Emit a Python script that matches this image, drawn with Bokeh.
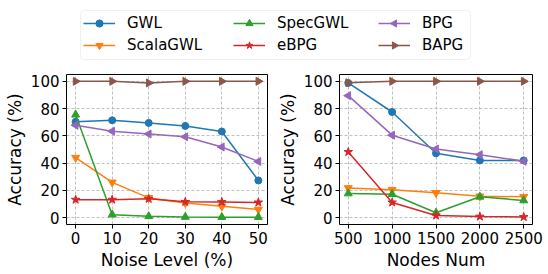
import math
from bokeh.plotting import figure
from bokeh.models import Range1d, Legend, LegendItem, FixedTicker, BoxAnnotation
from bokeh.layouts import column, row
from bokeh.embed import file_html
from bokeh.resources import INLINE

# ---------------- data ----------------
noise_levels = [0, 10, 20, 30, 40, 50]
nodes_num = [500, 1000, 1500, 2000, 2500]
methods = ["GWL", "ScalaGWL", "SpecGWL", "eBPG", "BPG", "BAPG"]

noise_gwl = [70.3, 71.4, 69.5, 67.3, 63.2, 27.3]
noise_scalagwl = [44.0, 25.9, 14.5, 10.8, 8.3, 6.0]
noise_specgwl = [75.5, 2.2, 1.0, 0.5, 0.4, 0.4]
noise_ebpg = [13.2, 13.2, 13.8, 11.6, 11.5, 11.2]
noise_bpg = [67.8, 63.4, 61.4, 59.3, 51.8, 41.2]
noise_bapg = [100.0, 100.0, 98.8, 100.0, 100.0, 100.0]

nodes_gwl = [98.8, 77.5, 47.2, 42.0, 42.0]
nodes_scalagwl = [21.8, 20.5, 18.2, 15.7, 15.3]
nodes_specgwl = [17.7, 17.2, 3.6, 15.3, 12.6]
nodes_ebpg = [48.2, 11.2, 1.6, 0.8, 0.5]
nodes_bpg = [89.5, 60.5, 50.4, 46.2, 41.4]
nodes_bapg = [99.0, 100.0, 100.0, 100.0, 100.0]

x_ticks_noise = [0, 10, 20, 30, 40, 50]
x_ticks_nodes = [500, 1000, 1500, 2000, 2500]
y_ticks = [0, 20, 40, 60, 80, 100]

noise_series = [noise_gwl, noise_scalagwl, noise_specgwl, noise_ebpg, noise_bpg, noise_bapg]
nodes_series = [nodes_gwl, nodes_scalagwl, nodes_specgwl, nodes_ebpg, nodes_bpg, nodes_bapg]

# ---------------- styles ----------------
colors = ["#1f77b4", "#ff7f0e", "#2ca02c", "#d62728", "#9467bd", "#8c564b"]
markers = ["circle", "inverted_triangle", "triangle", "star", "triangle", "triangle"]
angles = [0, 0, 0, 0, math.pi / 2, -math.pi / 2]
sizes = [7, 8, 8, 9, 8, 8]
FONT = "DejaVu Sans"


def draw(p, xs, series):
    for ys, c, m, a, s in zip(series, colors, markers, angles, sizes):
        p.line(xs, ys, line_color=c, line_width=1.5)
        p.scatter(xs, ys, marker=m, angle=a, size=s, fill_color=c, line_color=c)


def style(p, xlabel, xticks):
    p.xaxis.ticker = FixedTicker(ticks=xticks)
    p.yaxis.ticker = FixedTicker(ticks=y_ticks)
    for ax in (p.xaxis[0], p.yaxis[0]):
        ax.axis_line_color = None
        ax.major_tick_line_color = "black"
        ax.major_tick_out = 4
        ax.major_tick_in = 0
        ax.minor_tick_line_color = None
        ax.major_label_text_font = FONT
        ax.major_label_text_font_size = "15px"
        ax.major_label_text_color = "black"
        ax.axis_label_text_font = FONT
        ax.axis_label_text_font_size = "17px"
        ax.axis_label_text_font_style = "normal"
        ax.axis_label_text_color = "black"
        ax.major_label_standoff = 3
        ax.axis_label_standoff = 3
    p.xaxis.axis_label = xlabel
    p.yaxis.axis_label = "Accuracy (%)"
    p.grid.grid_line_color = "#b0b0b0"
    p.grid.grid_line_dash = "3 2"
    p.grid.grid_line_alpha = 0.8
    p.outline_line_color = "black"
    p.outline_line_width = 1
    p.outline_line_alpha = 1


p1 = figure(width=274, height=204, x_range=Range1d(-2.5, 52.5), y_range=Range1d(-5, 105),
            output_backend="svg", toolbar_location=None,
            min_border_left=66, min_border_right=7, min_border_top=4, min_border_bottom=50)
draw(p1, noise_levels, noise_series)
style(p1, "Noise Level (%)", x_ticks_noise)

p2 = figure(width=274, height=204, x_range=Range1d(400, 2600), y_range=Range1d(-5, 105),
            output_backend="svg", toolbar_location=None,
            min_border_left=59, min_border_right=16, min_border_top=4, min_border_bottom=50)
draw(p2, nodes_num, nodes_series)
style(p2, "Nodes Num", x_ticks_nodes)

# ---------------- legend strip ----------------
STRIP_H = 70
lf = figure(width=548, height=STRIP_H, x_range=Range1d(0, 548), y_range=Range1d(0, STRIP_H),
            output_backend="svg", toolbar_location=None, min_border=0,
            x_axis_location=None, y_axis_location=None)
lf.grid.visible = False
lf.outline_line_color = None
lf.add_layout(BoxAnnotation(left=80, right=470, bottom=11, top=60, fill_color="white",
                            fill_alpha=1, line_color="#cccccc", line_width=1,
                            border_radius=4))

GLYPH_W, ITEM_H, GAP, LEG_BOTTOM = 32, 18, 4, 16
MARK_SIZE = ITEM_H * 0.4
col_x = [83, 233, 378]
nan = float("nan")

for ci in range(3):
    items = []
    for r, k in enumerate((2 * ci, 2 * ci + 1)):
        rl = lf.line([nan, nan], [nan, nan], line_color=colors[k], line_width=1.5)
        rens = [rl]
        if angles[k] == 0:
            rs = lf.scatter([nan], [nan], marker=markers[k], size=sizes[k],
                            fill_color=colors[k], line_color=colors[k])
            rens.append(rs)
        else:
            # legends do not rotate markers: draw the rotated marker on the key
            cx = col_x[ci] + GLYPH_W / 2
            cy = LEG_BOTTOM + (1 - r) * (ITEM_H + GAP) + ITEM_H / 2
            lf.scatter([cx], [cy], marker=markers[k], angle=angles[k], size=MARK_SIZE,
                       fill_color=colors[k], line_color=colors[k], level="overlay")
        items.append(LegendItem(label=methods[k], renderers=rens))
    leg = Legend(items=items, location=(col_x[ci], LEG_BOTTOM), orientation="vertical",
                 padding=0, margin=0, spacing=GAP, glyph_width=GLYPH_W, glyph_height=ITEM_H,
                 label_height=ITEM_H, label_standoff=12, label_text_font=FONT,
                 label_text_font_size="15px", label_text_color="black",
                 border_line_alpha=0, background_fill_alpha=0)
    lf.add_layout(leg)

layout = column(lf, row(p1, p2))
open("out.html", "w").write(file_html(layout, INLINE))
